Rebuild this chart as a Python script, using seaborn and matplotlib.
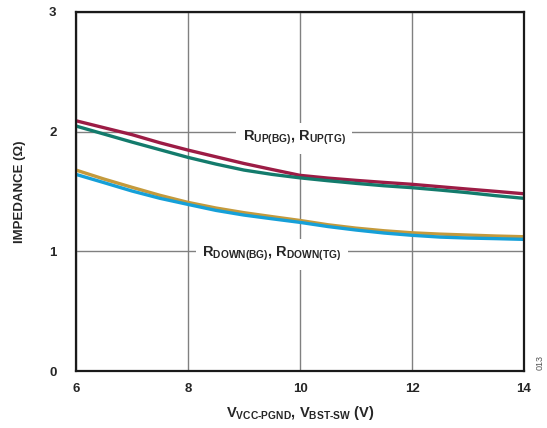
import matplotlib
matplotlib.use("Agg")
import matplotlib.pyplot as plt
import seaborn as sns
import pandas as pd

# ---- data ----
voltage = [6, 6.5, 7, 7.5, 8, 8.5, 9, 9.5, 10, 10.5, 11, 11.5, 12, 12.5, 13, 13.5, 14]
r_up_bg = [2.091, 2.033, 1.975, 1.907, 1.846, 1.79, 1.734, 1.684, 1.635,
           1.612, 1.593, 1.576, 1.56, 1.54, 1.52, 1.501, 1.481]
r_up_tg = [2.047, 1.98, 1.913, 1.849, 1.785, 1.729, 1.679, 1.643, 1.614,
           1.59, 1.568, 1.548, 1.532, 1.512, 1.49, 1.465, 1.443]
r_down_bg = [1.679, 1.604, 1.535, 1.468, 1.409, 1.362, 1.323, 1.29, 1.258,
             1.222, 1.194, 1.172, 1.155, 1.144, 1.136, 1.128, 1.122]
r_down_tg = [1.643, 1.574, 1.504, 1.443, 1.392, 1.342, 1.303, 1.272, 1.242,
             1.207, 1.178, 1.153, 1.134, 1.119, 1.111, 1.106, 1.10]
series_names = ["RUP(BG)", "RUP(TG)", "RDOWN(BG)", "RDOWN(TG)"]
x_ticks = [6, 8, 10, 12, 14]
y_ticks = [0, 1, 2, 3]

colors = {"RUP(BG)": "#9C1C45", "RUP(TG)": "#137B6C",
          "RDOWN(BG)": "#C49A3C", "RDOWN(TG)": "#16A0D8"}

sns.set_theme(style="white")
plt.rcParams["font.family"] = ["Liberation Sans", "DejaVu Sans"]
plt.rcParams["font.weight"] = "bold"
plt.rcParams["mathtext.fontset"] = "custom"
plt.rcParams["mathtext.rm"] = "Liberation Sans:bold"
plt.rcParams["mathtext.it"] = "Liberation Sans:bold"
plt.rcParams["mathtext.bf"] = "Liberation Sans:bold"
plt.rcParams["mathtext.default"] = "rm"

rows = []
for name, vals in zip(series_names, [r_up_bg, r_up_tg, r_down_bg, r_down_tg]):
    for v, r in zip(voltage, vals):
        rows.append({"V": v, "R": r, "series": name})
df = pd.DataFrame(rows)

fig = plt.figure(figsize=(5.47, 4.28), dpi=100)
ax = fig.add_axes([76 / 547, 1 - 371 / 428, 448 / 547, 359 / 428])

ax.grid(True, color="#808080", linewidth=1.0)
ax.set_axisbelow(True)

sns.lineplot(data=df, x="V", y="R", hue="series", hue_order=series_names,
             palette=colors, linewidth=2.4, legend=False, ax=ax, zorder=3)
for ln in ax.get_lines():
    ln.set_solid_joinstyle("round")
    ln.set_solid_capstyle("butt")

ax.set_xlim(6, 14)
ax.set_ylim(0, 3)
ax.set_xticks(x_ticks)
ax.set_yticks(y_ticks)
ax.set_xticklabels([str(t) for t in x_ticks], fontsize=9.5, fontweight="bold")
ax.set_yticklabels([str(t) for t in y_ticks], fontsize=9.5, fontweight="bold")
ax.tick_params(axis="x", length=0, pad=9)
ax.tick_params(axis="y", length=0, pad=14)
for s in ax.spines.values():
    s.set_color("#1a1a1a")
    s.set_linewidth(1.6)
    s.set_zorder(5)

ax.set_xlabel(r"V$_{VCC\text{-}PGND}$, V$_{BST\text{-}SW}$ (V)", fontsize=10.5, fontweight="bold")
ax.set_ylabel("IMPEDANCE (Ω)", fontsize=9.5, fontweight="bold")
ax.xaxis.set_label_coords(0.5, (371 - 404) / 359)
ax.yaxis.set_label_coords((26 - 76) / 448, 0.5)

bbox = dict(boxstyle="square,pad=0.45", facecolor="white", edgecolor="none")
ax.text(9.9, 1.945, r"R$_{UP(BG)}$, R$_{UP(TG)}$", fontsize=10.5, fontweight="bold",
        ha="center", va="center", bbox=bbox, zorder=4)
ax.text(9.5, 0.975, r"R$_{DOWN(BG)}$, R$_{DOWN(TG)}$", fontsize=10.5, fontweight="bold",
        ha="center", va="center", bbox=bbox, zorder=4)

fig.text(540 / 547, 1 - 362 / 428, "013", rotation=90, fontsize=6.5, color="#555555",
         fontweight="normal", ha="center", va="center")

fig.savefig("out.png", dpi=100, facecolor="white")
